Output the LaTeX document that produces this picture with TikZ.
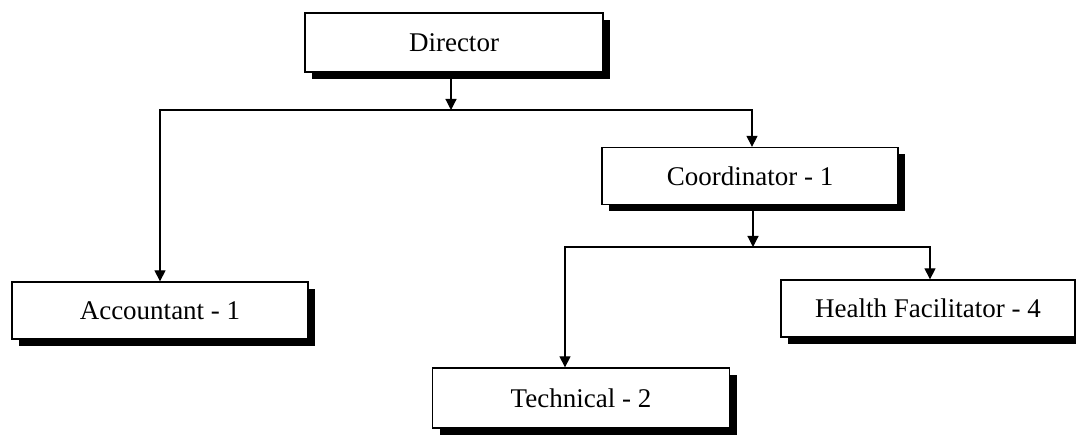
\documentclass[tikz,border=0pt]{standalone}
\usepackage{fontspec}
\setmainfont{Liberation Serif}
\usetikzlibrary{arrows.meta,shadows}
\begin{document}
\begin{tikzpicture}[x=1pt,y=-1pt,
  box/.style={draw=black,line width=1.3pt,fill=white,inner sep=0pt,
    minimum width=#1,minimum height=57pt,
    font=\fontsize{27}{32}\selectfont,
    drop shadow={shadow xshift=7pt,shadow yshift=-7pt,fill=black,opacity=1}},
  arr/.style={line width=1.2pt,-{Triangle[width=11pt,length=11pt]}},
  ln/.style={line width=1.2pt}]
\useasboundingbox (0,0) rectangle (1076,438);
\node[box=298pt,minimum height=59pt] (dir) at (454,42.5) {Director};
\node[box=296pt] (coord) at (750,176) {Coordinator - 1};
\node[box=296pt] (acc) at (160,310.5) {Accountant - 1};
\node[box=297pt,minimum height=60pt] (tech) at (581,398) {Technical - 2};
\node[box=294pt] (hf) at (928,308.5) {Health Facilitator - 4};
\coordinate (j1) at (451,110);
\coordinate (j2) at (753,247);
\draw[arr] (dir.south -| j1) -- (j1);
\draw[arr] (j1) -| (acc.north);
\draw[arr] (j1) -| ([xshift=2pt]coord.north);
\draw[arr] (coord.south -| j2) -- (j2);
\draw[arr] (j2) -| ([xshift=-16pt]tech.north);
\draw[arr] (j2) -| ([xshift=2pt]hf.north);
\end{tikzpicture}
\end{document}
